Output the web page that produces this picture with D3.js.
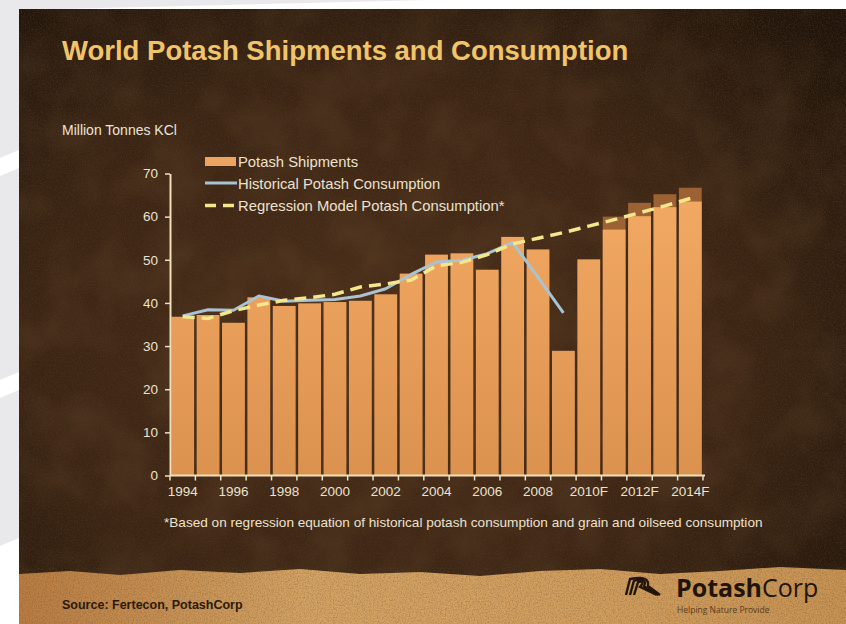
<!DOCTYPE html>
<html>
<head>
<meta charset="utf-8">
<script src="https://cdn.jsdelivr.net/npm/d3@7"></script>
<style>
	body { margin: 0; background: #fff; }
	svg { display: block; font-family: 'Liberation Sans', Arial, sans-serif; }
</style>
</head>
<body>
<div id="chart"></div>
<script>
'use strict';
// Data
var categories = ['1994', '1995', '1996', '1997', '1998', '1999', '2000', '2001', '2002', '2003', '2004',
	'2005', '2006', '2007', '2008', '2009', '2010F', '2011F', '2012F', '2013F', '2014F'];
var tickLabels = ['1994', '1996', '1998', '2000', '2002', '2004', '2006', '2008', '2010F', '2012F', '2014F'];
var shipments = [36.8, 37.2, 35.4, 41.3, 39.3, 39.9, 40.2, 40.5, 42.0, 46.8, 51.2,
	51.5, 47.7, 55.3, 52.4, 28.9, 50.1, 57.0, 60.1, 62.2, 63.5];
// upper end of the forecast range
var shipmentsHigh = [null, null, null, null, null, null, null, null, null, null, null,
	null, null, null, null, null, null, 60.0, 63.2, 65.2, 66.7];
var historical = [37.0, 38.4, 38.3, 41.6, 40.4, 40.6, 40.8, 41.6, 43.3, 46.6, 49.5,
	49.9, 51.4, 54.0, 45.9, 37.7];
var regression = [36.8, 36.4, 38.2, 39.5, 40.6, 41.2, 42.0, 43.7, 44.4, 45.3, 48.6,
	49.4, 51.2, 53.7, 55.0, 56.3, 57.8, 59.3, 60.9, 62.5, 64.2];
var yTicks = [0, 10, 20, 30, 40, 50, 60, 70];
var legendItems = ['Potash Shipments', 'Historical Potash Consumption', 'Regression Model Potash Consumption*'];

var W = 846, H = 624;
var svg = d3.select('#chart').append('svg').attr('width', W).attr('height', H);
var defs = svg.append('defs');

var bgGrad = defs.append('radialGradient').attr('id', 'bg')
	.attr('cx', '45%').attr('cy', '55%').attr('r', '75%');
bgGrad.append('stop').attr('offset', '0%').attr('stop-color', '#4d2f1a');
bgGrad.append('stop').attr('offset', '60%').attr('stop-color', '#3a2313');
bgGrad.append('stop').attr('offset', '100%').attr('stop-color', '#1e1209');

var bandGrad = defs.append('linearGradient').attr('id', 'band')
	.attr('x1', 0).attr('x2', 1).attr('y1', 0).attr('y2', 0);
bandGrad.append('stop').attr('offset', '0%').attr('stop-color', '#bb7d42');
bandGrad.append('stop').attr('offset', '35%').attr('stop-color', '#d5a465');
bandGrad.append('stop').attr('offset', '70%').attr('stop-color', '#d39f5f');
bandGrad.append('stop').attr('offset', '100%').attr('stop-color', '#c99454');

var barGrad = defs.append('linearGradient').attr('id', 'bar')
	.attr('gradientUnits', 'userSpaceOnUse').attr('x1', 0).attr('x2', 0).attr('y1', 180).attr('y2', 476);
barGrad.append('stop').attr('offset', '0%').attr('stop-color', '#f3aa64');
barGrad.append('stop').attr('offset', '100%').attr('stop-color', '#dc924f');

// grain on the leather-ish texture
var grain = defs.append('filter').attr('id', 'grain').attr('x', 0).attr('y', 0).attr('width', '100%').attr('height', '100%');
grain.append('feTurbulence').attr('type', 'fractalNoise').attr('baseFrequency', 0.75)
	.attr('numOctaves', 3).attr('seed', 4).attr('result', 'n');
grain.append('feColorMatrix').attr('type', 'matrix')
	.attr('values', '0 0 0 0 0.08  0 0 0 0 0.05  0 0 0 0 0.02  1.4 0 0 0 -0.55');
var blotch = defs.append('filter').attr('id', 'blotch').attr('x', 0).attr('y', 0).attr('width', '100%').attr('height', '100%');
blotch.append('feTurbulence').attr('type', 'fractalNoise').attr('baseFrequency', 0.02)
	.attr('numOctaves', 3).attr('seed', 9).attr('result', 'n');
blotch.append('feColorMatrix').attr('type', 'matrix')
	.attr('values', '0 0 0 0 0.42  0 0 0 0 0.24  0 0 0 0 0.1  1.3 0 0 0 -0.5');

// page behind the slide
svg.append('rect').attr('width', W).attr('height', H).attr('fill', '#ffffff');
var greys = [
	[[0, 0], [430, 0], [19, 10], [19, 150], [0, 158]],
	[[0, 176], [19, 168], [19, 372], [0, 380]],
	[[0, 398], [19, 390], [19, 538], [0, 546]]
];
svg.selectAll('polygon.page').data(greys).enter().append('polygon')
	.attr('class', 'page')
	.attr('points', function(d){ return d.join(' '); })
	.attr('fill', '#e9e9eb');

// slide
var slide = svg.append('g');
slide.append('rect').attr('x', 19).attr('y', 9).attr('width', W - 19).attr('height', H - 9).attr('fill', 'url(#bg)');
slide.append('rect').attr('x', 19).attr('y', 9).attr('width', W - 19).attr('height', H - 9)
	.attr('filter', 'url(#blotch)').attr('opacity', 0.2);
slide.append('rect').attr('x', 19).attr('y', 9).attr('width', W - 19).attr('height', H - 9)
	.attr('filter', 'url(#grain)').attr('opacity', 0.8);

// torn tan strip along the bottom
var tornEdge = 'M19,574 L70,571 L120,575 L180,570 L240,573 L300,569 L360,574 L420,572 L480,576 L540,571 ' +
	'L600,569 L660,574 L720,571 L780,567 L846,570 L846,624 L19,624 Z';
slide.append('path').attr('d', tornEdge).attr('fill', 'url(#band)');
slide.append('path').attr('d', tornEdge).attr('fill', '#000').attr('filter', 'url(#grain)').attr('opacity', 0.5);

// titles
svg.append('text').attr('x', 62).attr('y', 60)
	.attr('font-size', 27.5).attr('font-weight', 'bold').attr('fill', '#f2c46a')
	.text('World Potash Shipments and Consumption');
svg.append('text').attr('x', 62).attr('y', 135)
	.attr('font-size', 14).attr('fill', '#ece4d6')
	.text('Million Tonnes KCl');

// scales
var x = d3.scaleBand().domain(categories).range([170, 703]).paddingInner(0.1).paddingOuter(0.05);
var y = d3.scaleLinear().domain([0, 70]).range([475.5, 173.5]);
var cx = function(i){ return x(categories[i]) + x.bandwidth() / 2; };

// bars
var barsG = svg.append('g');
barsG.selectAll('rect.cap').data(shipmentsHigh).enter()
	.filter(function(d){ return d !== null; })
	.append('rect').attr('class', 'cap')
	.attr('x', function(d){ return x(categories[shipmentsHigh.indexOf(d)]); })
	.attr('y', function(d){ return y(d); })
	.attr('width', x.bandwidth())
	.attr('height', function(d){ return y(0) - y(d); })
	.attr('fill', '#9c6233');
barsG.selectAll('rect.bar').data(shipments).enter().append('rect')
	.attr('class', 'bar')
	.attr('x', function(d, i){ return x(categories[i]); })
	.attr('y', function(d){ return y(d); })
	.attr('width', x.bandwidth())
	.attr('height', function(d){ return y(0) - y(d); })
	.attr('fill', 'url(#bar)');

// lines
var line = d3.line()
	.x(function(d, i){ return cx(i); })
	.y(function(d){ return y(d); });
svg.append('path').datum(historical)
	.attr('d', line)
	.attr('fill', 'none').attr('stroke', '#a9c3d2').attr('stroke-width', 3)
	.attr('stroke-linejoin', 'round');
svg.append('path').datum(regression)
	.attr('d', line)
	.attr('fill', 'none').attr('stroke', '#f4e68c').attr('stroke-width', 3.5)
	.attr('stroke-dasharray', '12,7');

// axes
var axisColor = '#efe0bb';
var yAxis = svg.append('g').attr('transform', 'translate(170,0)')
	.call(d3.axisLeft(y).tickValues(yTicks).tickSize(5).tickSizeOuter(0).tickPadding(7));
var xAxis = svg.append('g').attr('transform', 'translate(0,' + y(0) + ')')
	.call(d3.axisBottom(x).tickValues(tickLabels).tickSize(0).tickPadding(11));
xAxis.select('.domain').attr('d', 'M170,0H705');
var bounds = categories.map(function(c){ return x(c) - x.step() * x.paddingInner() / 2; });
bounds.push(703);
xAxis.selectAll('line.bound').data(bounds).enter().append('line')
	.attr('class', 'bound')
	.attr('x1', function(d){ return d; }).attr('x2', function(d){ return d; })
	.attr('y1', 0).attr('y2', 5);
[yAxis, xAxis].forEach(function(a){
	a.selectAll('.domain').attr('stroke', axisColor).attr('stroke-width', 2);
	a.selectAll('line').attr('stroke', axisColor).attr('stroke-width', 1.5);
	a.selectAll('text').attr('fill', '#ece2cf').attr('font-size', 13.5)
		.attr('font-family', "'Liberation Sans', Arial, sans-serif");
});

// legend
var lg = svg.append('g').attr('transform', 'translate(205,0)');
lg.append('rect').attr('x', 0).attr('y', 157).attr('width', 31).attr('height', 9).attr('fill', '#eca463');
lg.append('line').attr('x1', 0).attr('x2', 32).attr('y1', 183).attr('y2', 183)
	.attr('stroke', '#a9c3d2').attr('stroke-width', 3);
lg.append('line').attr('x1', 0).attr('x2', 32).attr('y1', 205.5).attr('y2', 205.5)
	.attr('stroke', '#f4e68c').attr('stroke-width', 3.5).attr('stroke-dasharray', '11,7');
lg.selectAll('text').data(legendItems).enter().append('text')
	.attr('x', 33).attr('y', function(d, i){ return 167 + i * 22; })
	.attr('font-size', 14.8).attr('fill', '#ece2cf')
	.text(function(d){ return d; });

// footnote and source
svg.append('text').attr('x', 164).attr('y', 527)
	.attr('font-size', 13.6).attr('fill', '#ece2cf')
	.text('*Based on regression equation of historical potash consumption and grain and oilseed consumption');
svg.append('text').attr('x', 62).attr('y', 609)
	.attr('font-size', 12.5).attr('font-weight', 'bold').attr('fill', '#2b1a0c')
	.text('Source: Fertecon, PotashCorp');

// logo
var logo = svg.append('g').attr('transform', 'translate(624,577)');
[0, 4, 8].forEach(function(o){
	logo.append('path')
		.attr('d', 'M' + (2 + o) + ',18 L' + (6 + o) + ',' + (2 + o * 0.4) + ' Q' + (26 - o * 0.5) + ',' + (-2 + o * 0.6) +
			' ' + (24 - o) + ',' + (9 + o * 0.1) + ' L' + (36 - o * 0.4) + ',18')
		.attr('fill', 'none').attr('stroke', '#24150a').attr('stroke-width', 2.4);
});
var brand = svg.append('text').attr('x', 676).attr('y', 597)
	.attr('font-family', "'Open Sans', 'Noto Sans', sans-serif").attr('font-size', 25).attr('fill', '#22140a');
brand.append('tspan').attr('font-weight', 'bold').text('Potash');
brand.append('tspan').attr('font-weight', 'normal').text('Corp');
svg.append('text').attr('x', 677).attr('y', 613)
	.attr('font-family', "'Open Sans', 'Noto Sans', sans-serif").attr('font-size', 8.5).attr('fill', '#5b3a1b')
	.text('Helping Nature Provide');
</script>
</body>
</html>
